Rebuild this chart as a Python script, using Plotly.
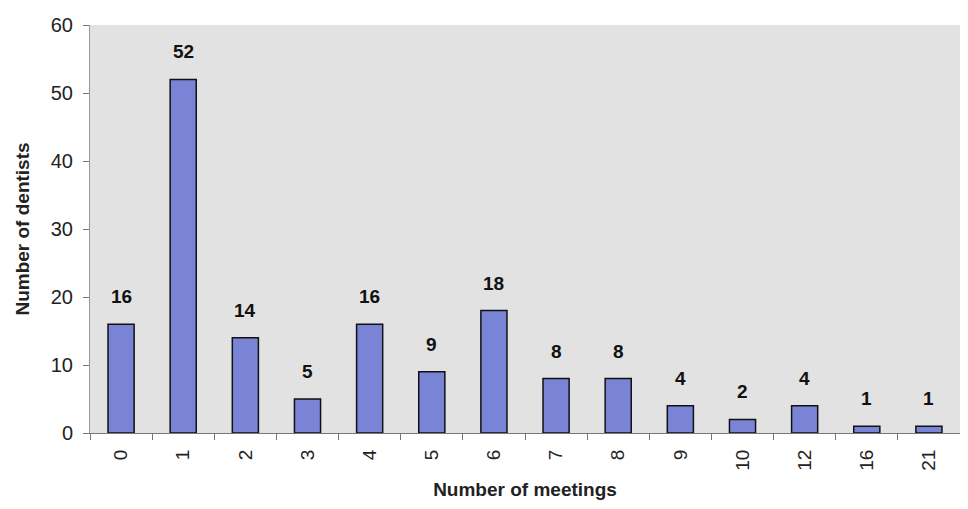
import plotly.graph_objects as go

meetings = ["0", "1", "2", "3", "4", "5", "6", "7", "8", "9", "10", "12", "16", "21"]
dentists = [16, 52, 14, 5, 16, 9, 18, 8, 8, 4, 2, 4, 1, 1]

fig = go.Figure()
fig.add_trace(go.Bar(
    x=meetings, y=dentists,
    marker=dict(color="#7A84D6", line=dict(color="#111111", width=1.5)),
    width=0.42,
))

# value labels sit well above the bars, as in the original
# (category index used for x, since numeric-looking strings are read as numbers)
for i, v in enumerate(dentists):
    fig.add_annotation(
        x=i, y=v, text=f"<b>{v}</b>", showarrow=False,
        yanchor="bottom", yshift=15,
        font=dict(size=19, color="#111111"),
    )

# page body has an 8px margin, so the figure is sized to fit inside it
fig.update_layout(
    width=952, height=493,
    margin=dict(l=82, r=0, t=17, b=68, autoexpand=False),
    paper_bgcolor="white",
    plot_bgcolor="#E2E2E2",
    font=dict(family="Liberation Sans, Arial", size=19, color="#222222"),
    showlegend=False,
    bargap=0.58,
)
fig.update_xaxes(
    type="category",
    tickangle=-90,
    ticks="outside", tickson="boundaries", ticklen=6, tickcolor="#777777",
    ticklabelstandoff=8,
    showline=True, linecolor="#777777", linewidth=1,
    showgrid=False,
    tickfont=dict(size=19),
    title=dict(text="<b>Number of meetings</b>", font=dict(size=19), standoff=12),
)
fig.update_yaxes(
    range=[0, 60], dtick=10,
    ticks="outside", ticklen=6, tickcolor="#777777",
    ticklabelstandoff=6,
    showline=True, linecolor="#999999", linewidth=1,
    showgrid=False, zeroline=False,
    tickfont=dict(size=20),
    title=dict(text="<b>Number of dentists</b>", font=dict(size=19), standoff=16),
)

fig.write_html("out.html")
